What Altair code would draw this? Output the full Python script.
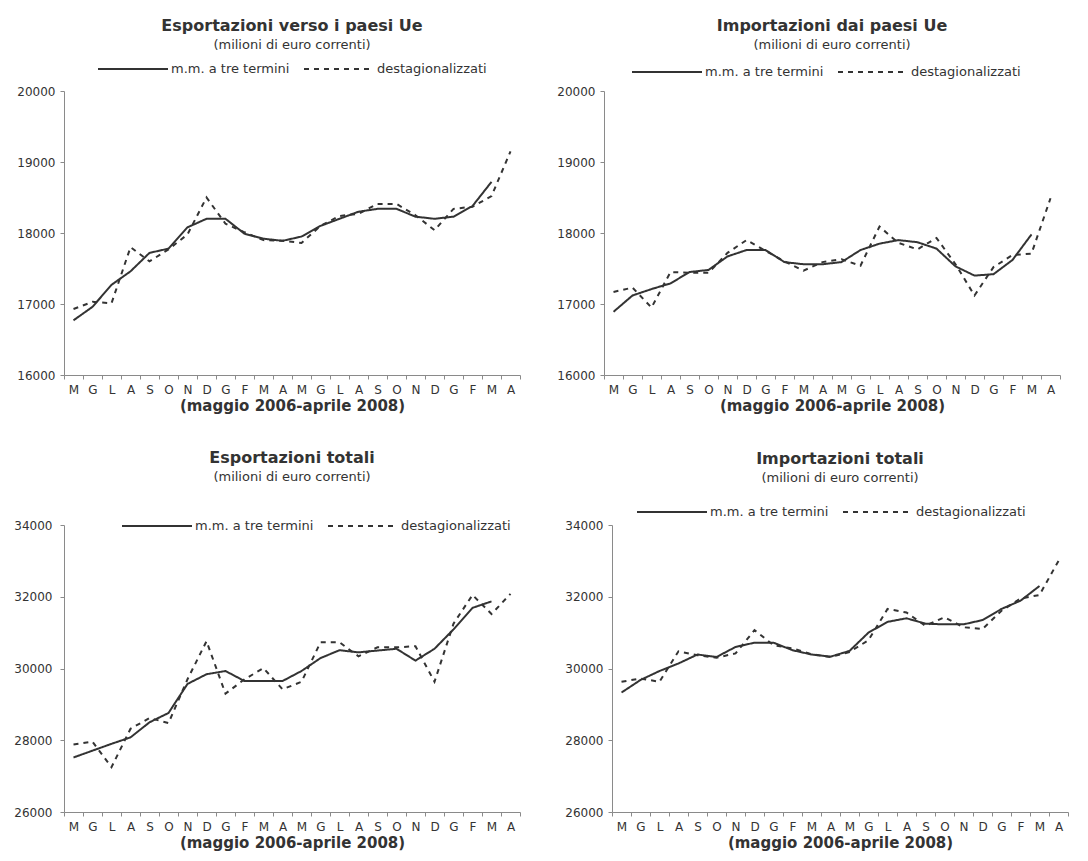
import altair as alt
import pandas as pd

months = ["M", "G", "L", "A", "S", "O", "N", "D", "G", "F", "M", "A",
          "M", "G", "L", "A", "S", "O", "N", "D", "G", "F", "M", "A"]
series_names = ["m.m. a tre termini", "destagionalizzati"]
x_title = "(maggio 2006-aprile 2008)"
subtitle = "(milioni di euro correnti)"

titles = ["Esportazioni verso i paesi Ue", "Importazioni dai paesi Ue",
          "Esportazioni totali", "Importazioni totali"]

exp_ue_mm = [16770, 16960, 17270, 17460, 17720, 17780, 18080, 18200, 18200, 17990, 17920, 17890,
             17950, 18100, 18200, 18300, 18340, 18340, 18230, 18200, 18230, 18380, 18720, None]
exp_ue_dest = [16930, 17030, 17010, 17800, 17600, 17770, 17980, 18500, 18130, 18010, 17900, 17890,
               17860, 18100, 18240, 18270, 18410, 18410, 18250, 18040, 18340, 18370, 18520, 19150]

imp_ue_mm = [16890, 17120, 17210, 17290, 17450, 17480, 17670, 17760, 17760, 17590, 17560, 17560,
             17590, 17760, 17850, 17900, 17870, 17780, 17530, 17400, 17420, 17620, 17980, None]
imp_ue_dest = [17170, 17230, 16950, 17450, 17440, 17440, 17720, 17900, 17750, 17600, 17470, 17590,
               17630, 17540, 18090, 17860, 17770, 17930, 17560, 17120, 17520, 17690, 17710, 18490]

exp_tot_mm = [27520, 27710, 27900, 28080, 28500, 28760, 29570, 29840, 29930, 29650, 29650, 29650,
              29930, 30290, 30510, 30450, 30500, 30550, 30220, 30550, 31090, 31690, 31870, None]
exp_tot_dest = [27880, 27960, 27250, 28320, 28620, 28480, 29700, 30760, 29300, 29700, 30010, 29420,
                29630, 30730, 30730, 30340, 30590, 30590, 30620, 29630, 31250, 32050, 31520, 32080]

imp_tot_mm = [29330, 29680, 29930, 30140, 30390, 30320, 30600, 30720, 30720, 30510, 30390, 30330,
              30490, 31000, 31300, 31400, 31250, 31230, 31230, 31350, 31660, 31890, 32300, None]
imp_tot_dest = [29630, 29720, 29630, 30480, 30370, 30300, 30420, 31070, 30650, 30560, 30400, 30320,
                30460, 30790, 31660, 31560, 31190, 31430, 31150, 31100, 31610, 31950, 32050, 33000]

FONT = "DejaVu Sans"
INK = "#333333"
GREY = "#8a8a8a"


def make_df(mm, dest):
    rows = []
    for i, (a, b) in enumerate(zip(mm, dest)):
        if a is not None:
            rows.append({"idx": i, "serie": series_names[0], "valore": a})
        if b is not None:
            rows.append({"idx": i, "serie": series_names[1], "valore": b})
    return pd.DataFrame(rows)


label_expr = "[" + ",".join("'%s'" % m for m in months) + "][datum.value]"


def panel(title, mm, dest, ydom, ystep, height, lx, ly, title_offset, ylabel_pad):
    df = make_df(mm, dest)
    yvals = list(range(ydom[0], ydom[1] + 1, ystep))
    return alt.Chart(df).mark_line(strokeWidth=2, color=INK).encode(
        x=alt.X("idx:O", bandPosition=0.5,
                scale=alt.Scale(type="band", paddingInner=0, paddingOuter=0),
                axis=alt.Axis(title=x_title, labelExpr=label_expr, labelAngle=0,
                              tickBand="extent", tickSize=4, labelPadding=5,
                              titlePadding=3, titleFont=FONT, titleFontSize=15,
                              titleFontWeight="bold", titleColor=INK,
                              labelFont=FONT, labelFontSize=12, labelColor=INK,
                              domainColor=GREY, tickColor=GREY)),
        y=alt.Y("valore:Q", scale=alt.Scale(domain=ydom, nice=False, zero=False),
                axis=alt.Axis(title=None, values=yvals, format="d", grid=False, tickSize=4,
                              labelPadding=ylabel_pad, labelFont=FONT, labelFontSize=12,
                              labelColor=INK, domainColor=GREY, tickColor=GREY)),
        strokeDash=alt.StrokeDash(
            "serie:N",
            scale=alt.Scale(domain=series_names, range=[[1, 0], [5, 5]]),
            legend=alt.Legend(title=None, orient="none", legendX=lx, legendY=ly,
                              direction="horizontal", symbolType="stroke",
                              symbolSize=4900, symbolStrokeWidth=2,
                              symbolStrokeColor=INK, labelFont=FONT,
                              labelFontSize=13, labelColor=INK,
                              labelOffset=2, columnPadding=10)),
    ).properties(
        width=456, height=height,
        title=alt.TitleParams(text=title, subtitle=subtitle, font=FONT, fontSize=16,
                              fontWeight="bold", color=INK, subtitleFont=FONT,
                              subtitleFontSize=13, subtitleColor=INK,
                              subtitlePadding=5, anchor="middle", offset=title_offset),
    )


p1 = panel(titles[0], exp_ue_mm, exp_ue_dest, [16000, 20000], 1000, 284, 33, -58, -19, 5)
p2 = panel(titles[1], imp_ue_mm, imp_ue_dest, [16000, 20000], 1000, 284, 27, -55, -16, 5)
p3 = panel(titles[2], exp_tot_mm, exp_tot_dest, [26000, 34000], 2000, 287, 57, -35, 6, 8)
p4 = panel(titles[3], imp_tot_mm, imp_tot_dest, [26000, 34000], 2000, 287, 24, -49, -9, 5)

top = alt.hconcat(p1, p2, spacing=35).resolve_scale(strokeDash="independent")
bottom = alt.hconcat(p3, p4, spacing=43).resolve_scale(strokeDash="independent")

chart = alt.vconcat(top, bottom, spacing=37)

chart = chart.configure(
    background="white", padding={"left": 5, "top": 10, "right": 5, "bottom": 5}
).configure_view(strokeWidth=0)

chart.save("out.html", embed_options={"renderer": "svg", "actions": False})
